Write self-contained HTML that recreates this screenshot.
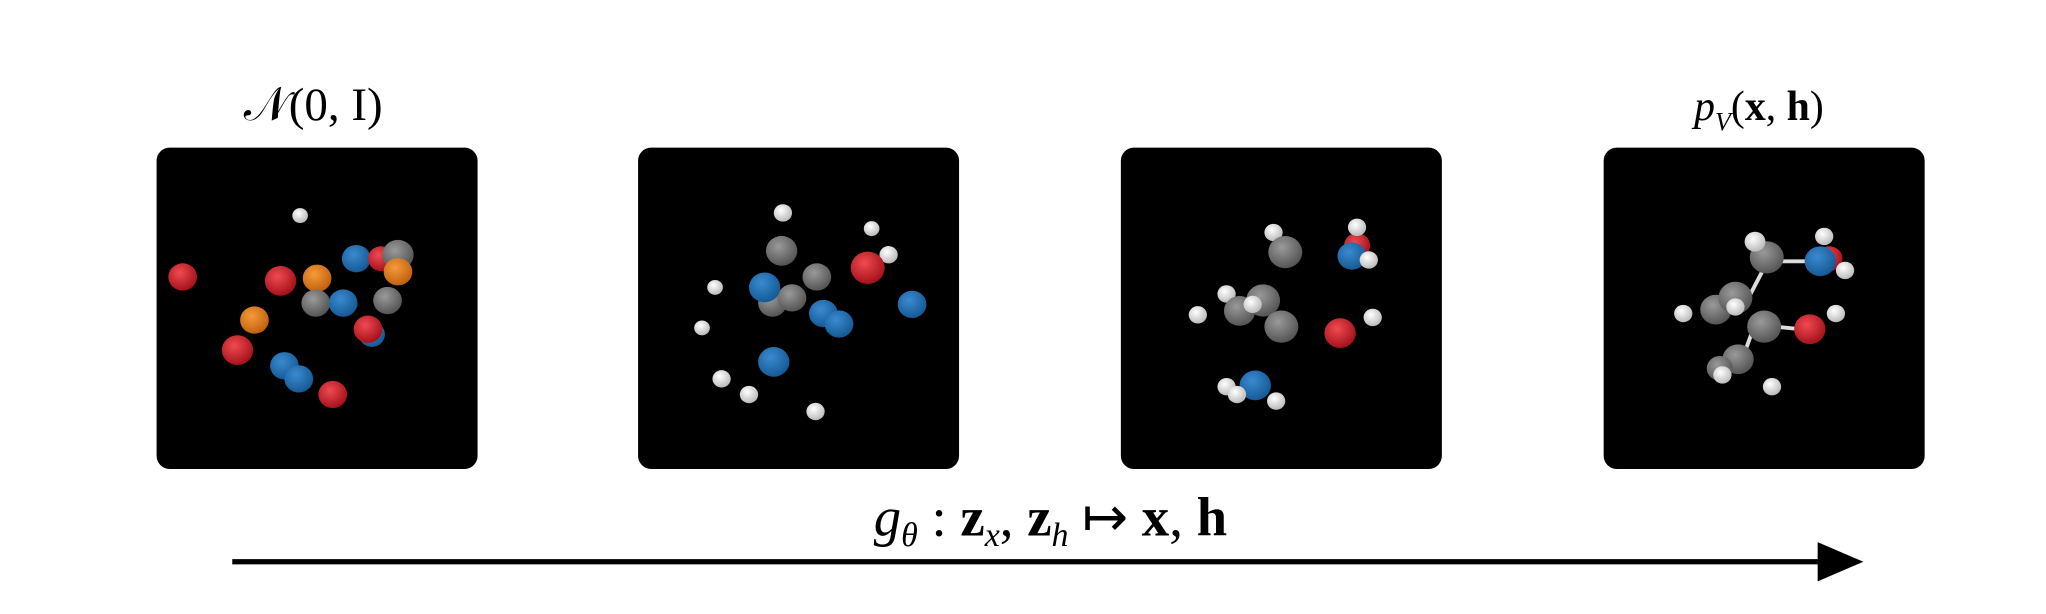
<!DOCTYPE html>
<html><head><meta charset="utf-8"><style>
html,body{margin:0;padding:0;background:#fff;}
svg{display:block;}
</style></head><body>
<svg id="fig" width="2046" height="614" viewBox="0 0 1568 470" preserveAspectRatio="none" xmlns="http://www.w3.org/2000/svg">
<defs>
<radialGradient id="g-red" cx="40%" cy="35%" r="65%"><stop offset="0" stop-color="#f04a50"/><stop offset="1" stop-color="#a5121c"/></radialGradient>
<radialGradient id="g-blue" cx="40%" cy="35%" r="65%"><stop offset="0" stop-color="#3a8ad0"/><stop offset="1" stop-color="#155a95"/></radialGradient>
<radialGradient id="g-orange" cx="40%" cy="35%" r="65%"><stop offset="0" stop-color="#f59a3a"/><stop offset="1" stop-color="#c0620e"/></radialGradient>
<radialGradient id="g-gray" cx="40%" cy="35%" r="65%"><stop offset="0" stop-color="#9a9a9a"/><stop offset="1" stop-color="#555"/></radialGradient>
<radialGradient id="g-white" cx="40%" cy="35%" r="65%"><stop offset="0" stop-color="#ffffff"/><stop offset="1" stop-color="#bbbbbb"/></radialGradient>
</defs>
<g id="panels"></g>
<text x="240" y="92" text-anchor="middle" font-family="Liberation Serif, serif" font-size="36">𝒩(0, I)</text>
<text x="1348" y="92" text-anchor="middle" font-family="Liberation Serif, serif" font-size="32"><tspan font-style="italic">p</tspan><tspan font-style="italic" font-size="20" dy="8">V</tspan><tspan dy="-8">(</tspan><tspan font-weight="bold">x</tspan>, <tspan font-weight="bold">h</tspan>)</text>
<text x="805" y="410" text-anchor="middle" font-family="Liberation Serif, serif" font-size="42"><tspan font-style="italic">g</tspan><tspan font-style="italic" font-size="26" dy="8">θ</tspan><tspan dy="-8"> : </tspan><tspan font-weight="bold">z</tspan><tspan font-style="italic" font-size="26" dy="8">x</tspan><tspan dy="-8">, </tspan><tspan font-weight="bold">z</tspan><tspan font-style="italic" font-size="26" dy="8">h</tspan><tspan dy="-8"> ↦ </tspan><tspan font-weight="bold">x</tspan>, <tspan font-weight="bold">h</tspan></text>
<line x1="178" y1="430" x2="1398" y2="430" stroke="#000" stroke-width="4"/>
<polygon points="1393,415 1428,430 1393,445" fill="#000"/>
</svg>
<script>
const panelX = [120, 489, 859, 1229];
const p1 = [["white",230,165,6],["red",140,212,11],["red",215,215,12],["orange",243,213,11],["blue",273,198,11],["red",292,198,10],["gray",305,195,12],["orange",305,208,11],["gray",242,232,11],["blue",263,232,11],["gray",297,230,11],["orange",195,245,11],["red",182,268,12],["blue",285,256,10],["red",282,252,11],["blue",218,280,11],["blue",229,290,11],["red",255,302,11]];
const p2 = [["white",600,163,7],["white",668,175,6],["gray",599,192,12],["white",681,195,7],["red",665,205,13],["gray",626,212,11],["white",548,220,6],["gray",592,232,11],["gray",607,228,11],["blue",586,220,12],["blue",631,240,11],["blue",643,248,11],["blue",699,233,11],["white",538,251,6],["blue",593,277,12],["white",553,290,7],["white",574,302,7],["white",625,315,7]];
const p3 = [["white",976,178,7],["gray",985,193,13],["red",1040,188,10],["white",1040,174,7],["blue",1036,196,11],["white",1049,199,7],["white",940,225,7],["gray",950,238,12],["gray",968,230,13],["white",960,233,7],["gray",982,250,13],["white",918,241,7],["white",1052,243,7],["red",1027,255,12],["white",940,296,7],["blue",962,295,12],["white",948,302,7],["white",978,307,7]];
const p4 = [["gray",1354,197,13],["white",1345,185,8],["red",1402,198,10],["white",1398,181,7],["blue",1395,200,12],["white",1414,207,7],["gray",1315,237,12],["gray",1330,228,13],["white",1290,240,7],["gray",1352,250,13],["white",1330,235,7],["white",1407,240,7],["red",1387,252,12],["gray",1332,275,12],["gray",1318,282,10],["white",1320,287,7],["white",1358,296,7]];
const bonds4 = [[1352,205,1340,228],[1365,200,1385,200],[1345,248,1337,270],[1360,250,1380,252]];
const NS = "http://www.w3.org/2000/svg";
const g = document.getElementById("panels");
const sets = [p1,p2,p3,p4];
sets.forEach((atoms,i)=>{
  const r = document.createElementNS(NS,"rect");
  r.setAttribute("x",panelX[i]); r.setAttribute("y",113);
  r.setAttribute("width",246); r.setAttribute("height",246);
  r.setAttribute("rx",10); r.setAttribute("fill","#000");
  
  
  g.appendChild(r);
  if(i===3){
    bonds4.forEach(b=>{
      const l=document.createElementNS(NS,"line");
      l.setAttribute("x1",b[0]);l.setAttribute("y1",b[1]);l.setAttribute("x2",b[2]);l.setAttribute("y2",b[3]);
      l.setAttribute("stroke","#ddd");l.setAttribute("stroke-width",3);
      
      
      g.appendChild(l);
    });
  }
  atoms.forEach(a=>{
    const c=document.createElementNS(NS,"ellipse");
    c.setAttribute("cx",a[1]);c.setAttribute("cy",a[2]);
    c.setAttribute("rx",a[3]);c.setAttribute("ry",a[3]*0.95);
    c.setAttribute("fill","url(#g-"+a[0]+")");
    
    
    g.appendChild(c);
  });
});
</script>
</body></html>
